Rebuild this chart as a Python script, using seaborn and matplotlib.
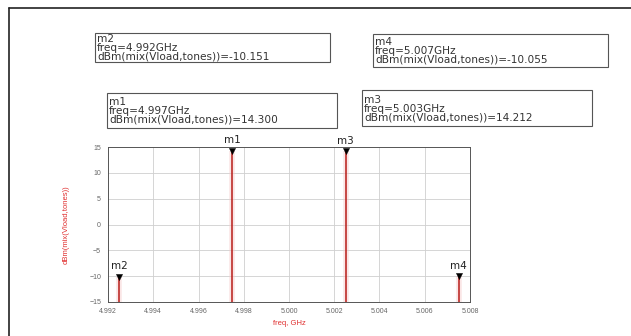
import matplotlib
matplotlib.use("Agg")
import matplotlib.pyplot as plt
import seaborn as sns
import numpy as np
import pandas as pd
from matplotlib.patches import Rectangle
from matplotlib.lines import Line2D
from matplotlib.ticker import MultipleLocator, FormatStrFormatter

# ---- data ----
marker_names = ["m2", "m1", "m3", "m4"]
freqs_ghz = [4.9925, 4.9975, 5.0025, 5.0075]
freq_labels = ["4.992", "4.997", "5.003", "5.007"]
dbm_values = [-10.151, 14.300, 14.212, -10.055]
x_ticks = [4.992, 4.994, 4.996, 4.998, 5.000, 5.002, 5.004, 5.006, 5.008]
y_ticks = [-15, -10, -5, 0, 5, 10, 15]
x_label = "freq, GHz"
y_label = "dBm(mix(Vload,tones))"

df = pd.DataFrame({"name": marker_names, "freq": freqs_ghz,
                   "flabel": freq_labels, "dbm": dbm_values})

sns.set_style("white")
plt.rcParams["font.family"] = ["Liberation Sans", "DejaVu Sans"]

W, H = 631, 336
fig = plt.figure(figsize=(W / 100, H / 100), dpi=100)

def fx(px):
    return px / W

def fy(py):
    return 1 - py / H

ax = fig.add_axes([fx(108), fy(302), fx(470) - fx(108), fy(147) - fy(302)])

ymin = y_ticks[0]
# stems
ax.vlines(df["freq"], ymin, df["dbm"], colors="#f6c8c8", linewidth=4.0, alpha=0.45, zorder=2)
ax.vlines(df["freq"], ymin, df["dbm"], colors="#b81c18", linewidth=1.1, zorder=3)
# markers
sns.scatterplot(data=df, x="freq", y="dbm", marker="v", color="black", s=20,
                edgecolor="black", linewidth=0.3, ax=ax, zorder=4, legend=False)
for _, r in df.iterrows():
    ax.annotate(r["name"], (r["freq"], r["dbm"]), xytext=(0, 4), textcoords="offset points",
                ha="center", va="bottom", fontsize=7.5, color="#222222",
                family=["DejaVu Sans"])

ax.set_xlim(x_ticks[0], x_ticks[-1])
ax.set_ylim(y_ticks[0], y_ticks[-1])
ax.set_xticks(x_ticks)
ax.set_yticks(y_ticks)
ax.xaxis.set_minor_locator(MultipleLocator(0.001))
ax.yaxis.set_minor_locator(MultipleLocator(1))
ax.xaxis.set_major_formatter(FormatStrFormatter("%.3f"))
ax.tick_params(axis="both", which="major", labelsize=5, labelcolor="#666666",
               length=4, width=0.6, color="#444444", direction="inout")
ax.tick_params(axis="both", which="minor", length=2.5, width=0.5, color="#444444", direction="inout")
ax.tick_params(axis="x", pad=2)
ax.tick_params(axis="y", pad=3)
ax.grid(True, which="major", color="#cfcfcf", linewidth=0.6)
ax.set_axisbelow(True)
for s in ax.spines.values():
    s.set_color("#555555")
    s.set_linewidth(0.7)
ax.set_xlabel(x_label, fontsize=5.5, color="#e03030", labelpad=4)
ax.set_ylabel(y_label, fontsize=5.5, color="#e03030", labelpad=14)

# marker info boxes (pixel layout: left, top, right, bottom)
box_layout = {"m2": (95, 33, 330, 62), "m4": (373, 34, 608, 67),
              "m1": (107, 93, 337, 128), "m3": (362, 90, 592, 126)}
for _, r in df.iterrows():
    l, t, rr, b = box_layout[r["name"]]
    fig.patches.append(Rectangle((fx(l), fy(b)), fx(rr) - fx(l), fy(t) - fy(b),
                                 transform=fig.transFigure, fill=False,
                                 edgecolor="#555555", linewidth=0.8))
    txt = f"{r['name']}\nfreq={r['flabel']}GHz\ndBm(mix(Vload,tones))={r['dbm']:.3f}"
    fig.text(fx(l + 2), fy((t + b) / 2 + 0.5), txt, ha="left", va="center", fontsize=7.6,
             linespacing=0.85, color="#333333", family=["DejaVu Sans"])

# outer frame (left and top edges)
fig.add_artist(Line2D([fx(9), fx(9)], [fy(8), 0], transform=fig.transFigure,
                      color="#222222", linewidth=1.2))
fig.add_artist(Line2D([fx(9), 1], [fy(8), fy(8)], transform=fig.transFigure,
                      color="#222222", linewidth=1.2))

fig.savefig("out.png", dpi=100)
